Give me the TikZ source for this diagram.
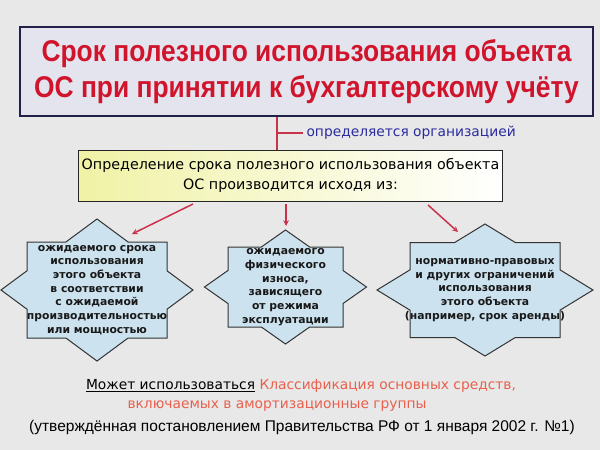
\documentclass[tikz,border=0pt]{standalone}
\usepackage{fontspec}
\setmainfont{DejaVu Sans}
\newfontfamily\titlefont[FakeStretch=0.88]{Liberation Sans}
\newfontfamily\notefont{Liberation Sans}
\usetikzlibrary{positioning,calc}

\definecolor{bgray}{HTML}{E8E8E8}
\definecolor{titlered}{HTML}{D0142C}
\definecolor{titlefill}{HTML}{E4E4EE}
\definecolor{navy}{HTML}{202048}
\definecolor{orgblue}{HTML}{2B2B9E}
\definecolor{arrowred}{HTML}{C8324A}
\definecolor{starblue}{HTML}{CCE2EF}
\definecolor{paleyellow}{HTML}{F0F2A6}
\definecolor{salmon}{HTML}{E8604C}

% eight-pointed star: name, cx, cy, half width/height of square, half width/height of diamond
\newcommand{\octstar}[7]{%
  \pgfmathsetmacro{\sdx}{#6*(1-#5/#7)}
  \pgfmathsetmacro{\sdy}{#7*(1-#4/#6)}
  \draw[starline] ({#2-#4},{#3-#5}) -- ({#2-\sdx},{#3-#5}) -- (#2,{#3-#7})
    -- ({#2+\sdx},{#3-#5}) -- ({#2+#4},{#3-#5}) -- ({#2+#4},{#3-\sdy})
    -- ({#2+#6},#3) -- ({#2+#4},{#3+\sdy}) -- ({#2+#4},{#3+#5})
    -- ({#2+\sdx},{#3+#5}) -- (#2,{#3+#7}) -- ({#2-\sdx},{#3+#5})
    -- ({#2-#4},{#3+#5}) -- ({#2-#4},{#3+\sdy}) -- ({#2-#6},#3)
    -- ({#2-#4},{#3-\sdy}) -- cycle;
  \coordinate (#1) at (#2,#3);
}

\begin{document}
\begin{tikzpicture}[x=1pt,y=-1pt,
    titlebox/.style={draw=navy, line width=1.5pt, fill=titlefill, text=titlered,
      minimum width=573pt, minimum height=89pt, align=center,
      font=\titlefont\bfseries\fontsize{30}{36}\selectfont},
    midbox/.style={draw=black!85, line width=1pt, left color=paleyellow, right color=white,
      minimum width=415pt, minimum height=51pt, align=center,
      font=\fontsize{14.3}{20}\selectfont},
    orgnote/.style={text=orgblue, font=\fontsize{13.8}{16}\selectfont},
    tickline/.style={arrowred, line width=1.3pt},
    pointer/.style={-stealth, arrowred, line width=1.5pt},
    starline/.style={draw=black!80, line width=1pt, fill=starblue},
    startext/.style={align=center, text=black!90,
      font=\bfseries\fontsize{10.8}{13.7}\selectfont},
    notetext/.style={font=\fontsize{13.8}{16}\selectfont}]
  \fill[bgray] (0,0) rectangle (600,450);
  \useasboundingbox (0,0) rectangle (600,450);

  \node[titlebox] (title) at (306.5,71.5)
    {Срок полезного использования объекта\\ОС при принятии к бухгалтерскому учёту};
  \node[midbox] (basis) at (290.5,175.5)
    {Определение срока полезного использования объекта\\ОС производится исходя из:};
  \node[orgnote, anchor=west] (org) at (303,133) {определяется организацией};

  \coordinate (tick) at (277,133);
  \draw[tickline] (tick |- title.south) -- (tick |- basis.north);
  \draw[tickline] (tick) -- (org.west);

  % stars
  \octstar{s1}{97}{290}{70}{48}{96}{71}
  \octstar{s2}{285.5}{287}{57.5}{40}{81}{57}
  \octstar{s3}{485}{290}{75}{47.5}{108}{66}

  \node[startext] (life) at (s1) {ожидаемого срока\\использования\\этого объекта\\в соответствии\\с ожидаемой\\производительностью\\или мощностью};
  \node[startext] (wear) at (s2) {ожидаемого\\физического\\износа,\\зависящего\\от режима\\эксплуатации};
  \node[startext] (limits) at (s3) {нормативно-правовых\\и других ограничений\\использования\\этого объекта\\(например, срок аренды)};

  % arrows
  \coordinate (a1s) at (193,204);
  \coordinate (a1e) at (132,234);
  \coordinate (a2s) at (286,204);
  \coordinate (a2e) at (286,226);
  \coordinate (a3s) at (428,205);
  \coordinate (a3e) at (458,232);
  \draw[pointer] (a1s) -- (a1e);
  \draw[pointer] (a2s) -- (a2e);
  \draw[pointer] (a3s) -- (a3e);

  % note below
  \node[notetext] (cls1) at (301,386)
    {\underline{Может использоваться} \textcolor{salmon}{Классификация основных средств,}};
  \node[notetext, text=salmon] (cls2) at (277,406) {включаемых в амортизационные группы};
  \node[notetext, font=\notefont\fontsize{15.5}{18}\selectfont] (decree) at (302,427)
    {(утверждённая постановлением Правительства РФ от 1 января 2002 г. №1)};
\end{tikzpicture}
\end{document}
